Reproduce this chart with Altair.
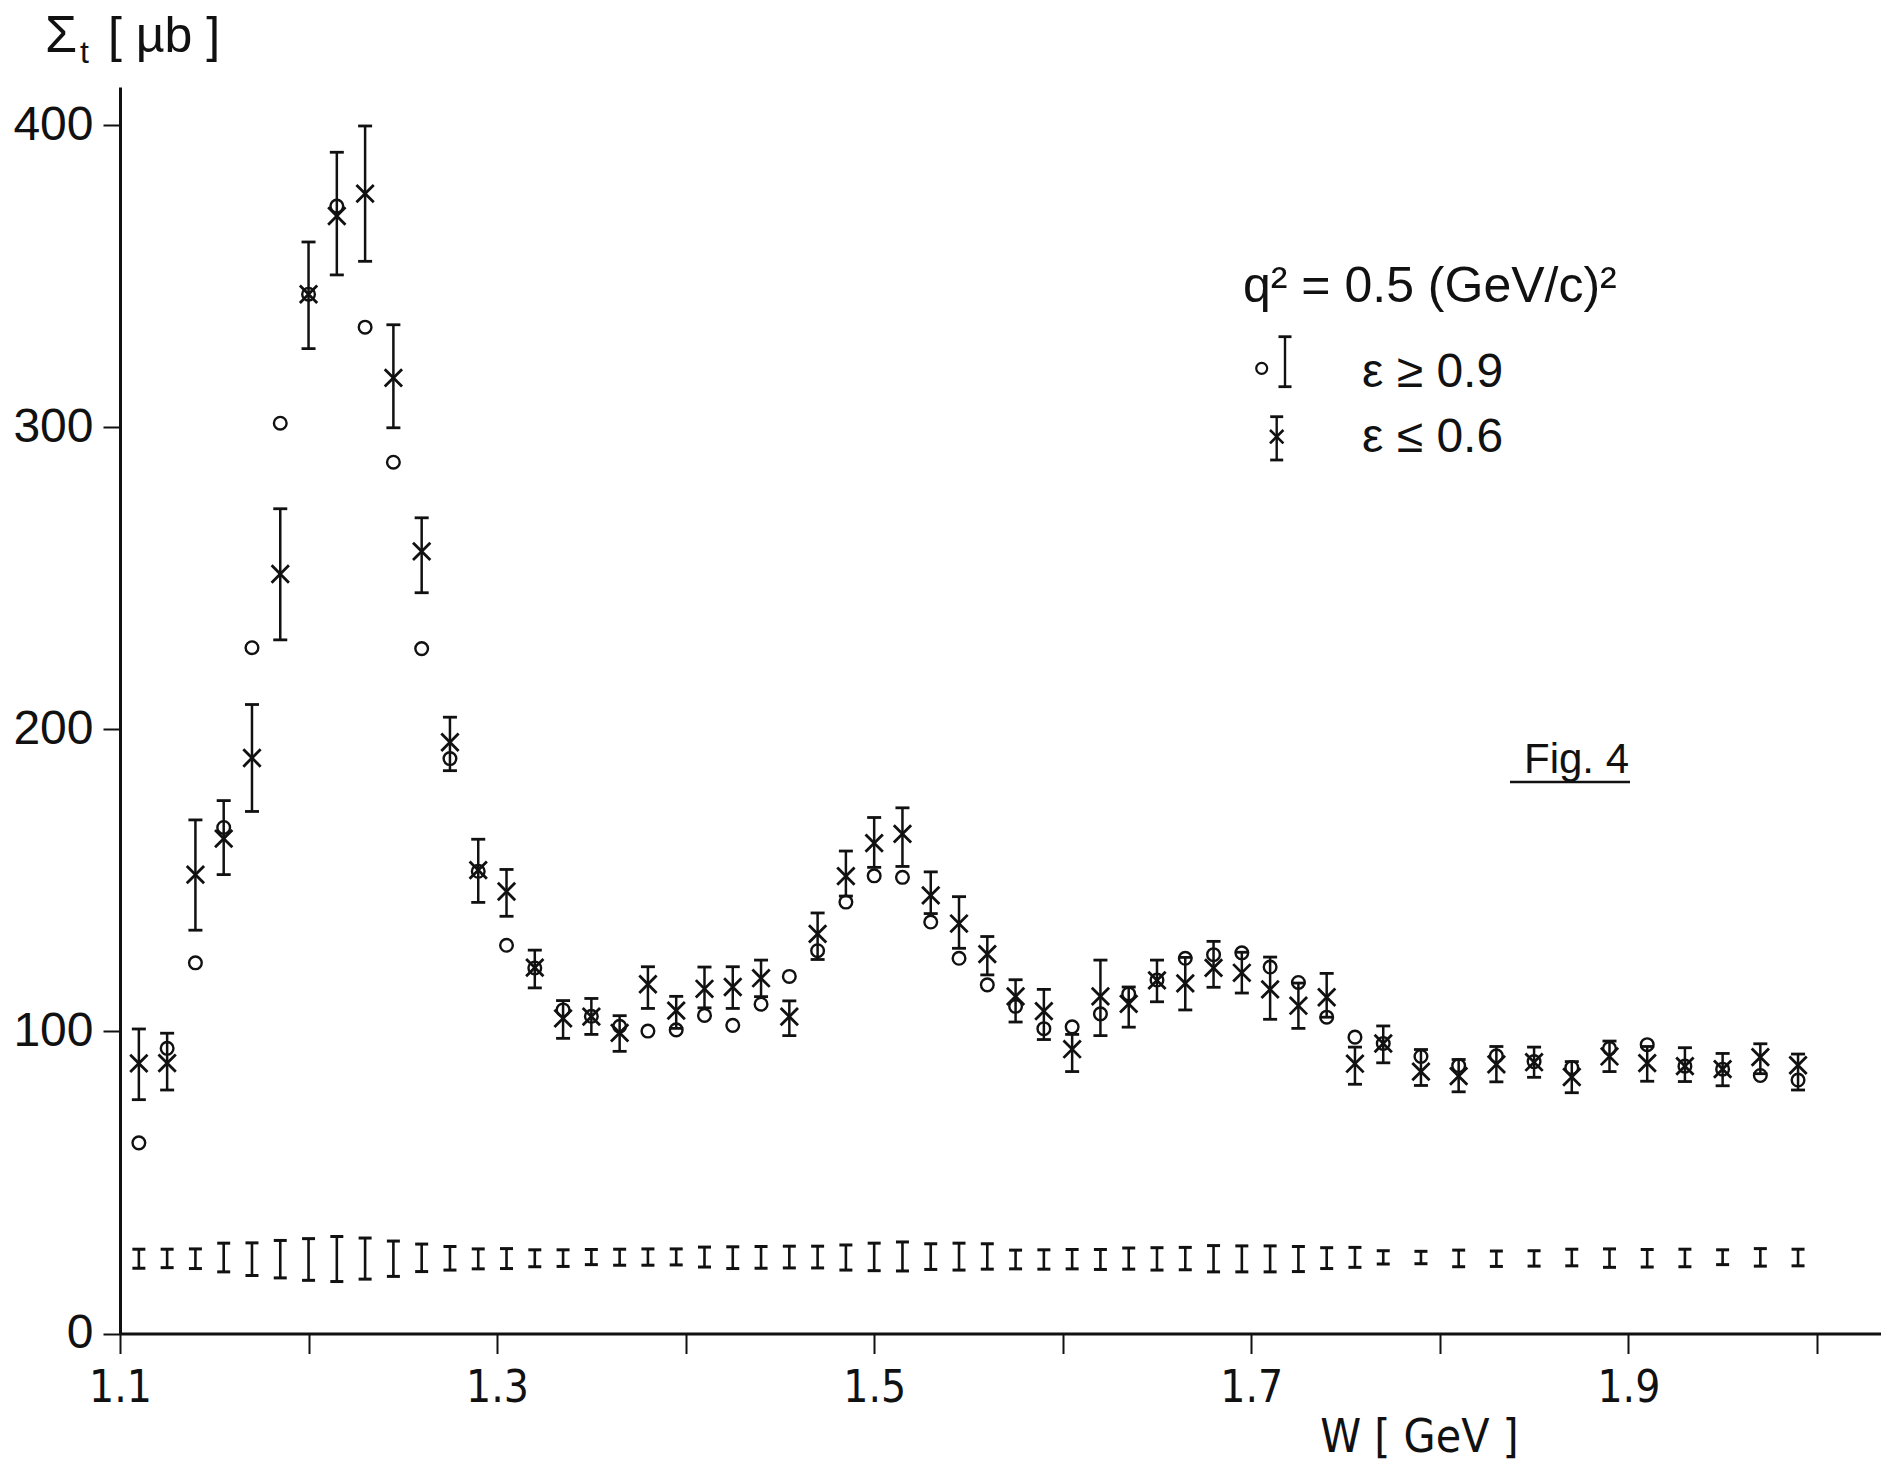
import altair as alt
import pandas as pd

# ---------------- data ----------------
W = [1.11, 1.125, 1.14, 1.155, 1.17, 1.185, 1.20, 1.215, 1.23, 1.245, 1.26, 1.275,
     1.29, 1.305, 1.32, 1.335, 1.35, 1.365, 1.38, 1.395, 1.41, 1.425, 1.44, 1.455,
     1.47, 1.485, 1.50, 1.515, 1.53, 1.545, 1.56, 1.575, 1.59, 1.605, 1.62, 1.635,
     1.65, 1.665, 1.68, 1.695, 1.71, 1.725, 1.74, 1.755, 1.77, 1.79, 1.81, 1.83,
     1.85, 1.87, 1.89, 1.91, 1.93, 1.95, 1.97, 1.99]

# eps <= 0.6 (crosses) with statistical error bars
cross = [89.4, 89.5, 151.9, 163.8, 190.5, 251.4, 344.0, 369.9, 377.3, 316.3, 258.9, 195.7,
         153.4, 146.3, 121.1, 104.3, 104.9, 99.5, 115.6, 106.9, 114.1, 114.7, 117.6, 104.9,
         132.3, 151.4, 162.3, 165.4, 145.0, 135.7, 125.6, 111.6, 106.7, 94.1, 111.6, 109.1,
         116.9, 115.9, 121.0, 119.4, 113.9, 108.5, 111.3, 89.3, 96.0, 86.7, 85.2, 89.1,
         89.8, 84.9, 91.7, 89.5, 88.5, 87.5, 91.5, 88.8]
cross_lo = [77.4, 80.6, 133.5, 151.9, 172.8, 229.6, 326.0, 350.4, 354.9, 299.8, 245.2, 186.3,
            142.7, 138.1, 114.4, 97.7, 99.0, 93.4, 107.6, 101.0, 107.8, 107.6, 111.5, 98.6,
            123.8, 144.8, 154.3, 154.6, 139.0, 127.5, 118.7, 103.1, 97.3, 86.7, 98.6, 101.4,
            109.8, 107.1, 114.6, 112.7, 104.0, 101.0, 104.7, 82.5, 89.6, 82.1, 80.0, 83.3,
            84.8, 79.7, 86.7, 83.5, 83.4, 82.0, 86.0, 80.6]
cross_hi = [100.8, 99.4, 170.0, 176.4, 208.2, 273.0, 361.3, 391.0, 399.7, 333.9, 270.0, 204.0,
            163.6, 153.6, 126.9, 110.2, 110.9, 105.2, 121.4, 111.6, 121.3, 121.4, 123.6, 110.1,
            139.2, 159.7, 170.8, 174.0, 152.8, 144.6, 131.4, 117.1, 113.9, 99.0, 123.6, 114.7,
            123.6, 124.5, 129.8, 126.2, 124.6, 116.0, 119.2, 94.8, 101.8, 94.0, 90.7, 95.0,
            94.8, 90.0, 96.8, 95.0, 94.6, 92.7, 95.9, 92.5]

# eps >= 0.9 (open circles)
circle = [63.1, 94.4, 122.7, 167.5, 227.0, 301.3, 344.0, 373.2, 333.1, 288.4, 226.7, 190.3,
          153.0, 128.5, 121.0, 107.1, 105.0, 101.7, 100.1, 100.5, 105.3, 102.0, 109.0, 118.2,
          126.7, 142.8, 151.5, 151.0, 136.2, 124.2, 115.4, 108.3, 100.9, 101.5, 105.8, 112.4,
          117.0, 124.2, 125.4, 126.0, 121.3, 116.2, 104.7, 98.1, 96.0, 91.7, 88.7, 91.9,
          90.0, 88.0, 94.4, 95.6, 88.5, 87.5, 85.4, 83.9]

# systematic error bars drawn along the bottom
sys_lo = [21.6, 21.8, 21.5, 20.4, 19.2, 18.4, 17.6, 17.2, 18.0, 18.9, 20.5, 21.0,
          21.4, 21.5, 22.1, 22.2, 22.8, 22.6, 22.6, 22.7, 22.0, 21.5, 21.6, 21.7,
          21.7, 21.0, 20.8, 20.7, 21.2, 21.0, 21.3, 21.4, 21.3, 21.4, 21.2, 21.3,
          21.0, 21.1, 20.4, 20.4, 20.4, 20.5, 21.5, 21.9, 23.0, 23.1, 22.1, 22.2,
          22.3, 22.4, 21.9, 22.0, 22.1, 22.8, 22.3, 22.4]
sys_hi = [27.9, 27.9, 28.0, 29.9, 30.0, 30.8, 31.4, 32.1, 31.6, 30.6, 29.6, 28.8,
          28.0, 28.1, 27.7, 27.7, 27.8, 27.9, 28.0, 28.0, 28.6, 28.7, 28.8, 28.9,
          28.9, 29.3, 29.9, 30.3, 29.7, 29.9, 29.7, 27.6, 27.7, 27.8, 27.8, 28.3,
          28.4, 28.5, 29.1, 29.0, 29.0, 28.8, 28.4, 28.5, 27.4, 27.2, 27.6, 27.3,
          27.4, 27.9, 28.0, 27.8, 27.9, 27.7, 28.1, 27.9]

x_ticks = [1.1, 1.2, 1.3, 1.4, 1.5, 1.6, 1.7, 1.8, 1.9, 2.0]
x_labels = ["1.1", "1.3", "1.5", "1.7", "1.9"]
y_ticks = [0, 100, 200, 300, 400]
x_domain = [1.1, 2.034]
y_domain = [0, 412.6]

y_title_parts = ["Σ", "t", "[ µb ]"]
x_title = "W [ GeV ]"
q2_text = "q² = 0.5  (GeV/c)²"
leg1_text = "ε ≥ 0.9"
leg2_text = "ε ≤ 0.6"
fig_text = "Fig. 4"

# ---------------- styling ----------------
INK = "#111111"
REG = "Liberation Sans"
NARROW = "Liberation Sans Narrow, DejaVu Sans Condensed, Liberation Sans"
PLOT_W = 1761
PLOT_H = 1246.5
XSHAPE = "M-1,-1L1,1M1,-1L-1,1"
CAP = "M-1,0L1,0"

df = pd.DataFrame({"W": W, "cross": cross, "lo": cross_lo, "hi": cross_hi,
                   "circle": circle, "slo": sys_lo, "shi": sys_hi})
caps = pd.DataFrame({"W": W * 2, "v": cross_lo + cross_hi})
scaps = pd.DataFrame({"W": W * 2, "v": sys_lo + sys_hi})

label_list = ",".join("'%s'" % s for s in x_labels)
x_axis = alt.Axis(values=x_ticks, format=".1f",
                  labelExpr="indexof([%s], datum.label) >= 0 ? datum.label : ''" % label_list,
                  labelFlush=False, labelOverlap=False, grid=False,
                  tickSize=20, tickWidth=2, tickColor=INK,
                  domainWidth=3, domainColor=INK,
                  labelFont=NARROW, labelFontSize=44, labelColor=INK, labelPadding=13,
                  title=x_title, titleFont=NARROW, titleFontSize=46, titleFontWeight="normal",
                  titleColor=INK, titleX=1299, titleY=118, titleAlign="center",
                  titleBaseline="alphabetic")
y_axis = alt.Axis(values=y_ticks, title=None, grid=False, labelFlush=False, labelOverlap=False,
                  tickSize=17, tickWidth=2, tickColor=INK, domainWidth=3, domainColor=INK,
                  labelFont=REG, labelFontSize=48, labelColor=INK, labelPadding=10)

xscale = alt.Scale(domain=x_domain, nice=False, zero=False)
yscale = alt.Scale(domain=y_domain, nice=False, zero=False)


def X(f):
    return alt.X(f + ":Q", scale=xscale, axis=x_axis)


def Y(f):
    return alt.Y(f + ":Q", scale=yscale, axis=y_axis)


err_rule = alt.Chart(df).mark_rule(color=INK, strokeWidth=2.5).encode(x=X("W"), y=Y("lo"), y2="hi")
err_caps = alt.Chart(caps).mark_point(shape=CAP, size=196, filled=False, color=INK,
                                      strokeWidth=2.8, opacity=1).encode(x=X("W"), y=Y("v"))
cross_pts = alt.Chart(df).mark_point(shape=XSHAPE, size=300, filled=False, color=INK,
                                     strokeWidth=2.8, opacity=1).encode(x=X("W"), y=Y("cross"))
circ_pts = alt.Chart(df).mark_point(shape="circle", size=160, filled=False, color=INK,
                                    strokeWidth=2.4, opacity=1).encode(x=X("W"), y=Y("circle"))
sys_rule = alt.Chart(df).mark_rule(color=INK, strokeWidth=2.6).encode(x=X("W"), y=Y("slo"), y2="shi")
sys_caps = alt.Chart(scaps).mark_point(shape=CAP, size=169, filled=False, color=INK,
                                       strokeWidth=3.0, opacity=1).encode(x=X("W"), y=Y("v"))


def txt(s, x, y, size, font=REG, align="left"):
    return alt.Chart(pd.DataFrame({"t": [s]})).mark_text(
        font=font, fontSize=size, align=align, baseline="alphabetic", color=INK
    ).encode(text="t:N", x=alt.value(x), y=alt.value(y))


def glyph(shape, x, y, size, sw=2.4):
    return alt.Chart(pd.DataFrame({"k": [0]})).mark_point(
        shape=shape, size=size, filled=False, color=INK, strokeWidth=sw, opacity=1
    ).encode(x=alt.value(x), y=alt.value(y))


def vbar(x, y1, y2):
    return alt.Chart(pd.DataFrame({"k": [0]})).mark_rule(color=INK, strokeWidth=2.4).encode(
        x=alt.value(x), y=alt.value(y1), y2=alt.value(y2))


annotations = [
    txt(y_title_parts[0], -75, -35, 52),
    txt(y_title_parts[1], -40, -24, 32),
    txt(y_title_parts[2], -12, -35, 50),
    txt(q2_text, 1123, 215, 50),
    glyph("circle", 1141.7, 281.3, 120, 2.2),
    vbar(1165, 249.7, 299.7),
    glyph(CAP, 1165, 249.7, 169, 2.8),
    glyph(CAP, 1165, 299.7, 169, 2.8),
    txt(leg1_text, 1242, 300, 48),
    vbar(1156.7, 329.7, 373),
    glyph(CAP, 1156.7, 329.7, 169, 2.8),
    glyph(CAP, 1156.7, 373, 169, 2.8),
    glyph(XSHAPE, 1156.7, 349.7, 180, 2.6),
    txt(leg2_text, 1242, 365, 48),
    txt(fig_text, 1404, 686, 42),
    alt.Chart(pd.DataFrame({"k": [0]})).mark_rule(color=INK, strokeWidth=2.6).encode(
        x=alt.value(1390), x2=alt.value(1510), y=alt.value(695)),
]

chart = alt.layer(
    sys_rule, sys_caps, err_rule, err_caps, cross_pts, circ_pts, *annotations
).properties(
    width=PLOT_W, height=PLOT_H,
    autosize=alt.AutoSizeParams(type="none"),
    padding={"left": 120, "top": 87, "right": 0, "bottom": 131.5},
    background="white",
).configure_view(stroke=None)

chart.save("out.html", embed_options={"renderer": "svg", "actions": False})
